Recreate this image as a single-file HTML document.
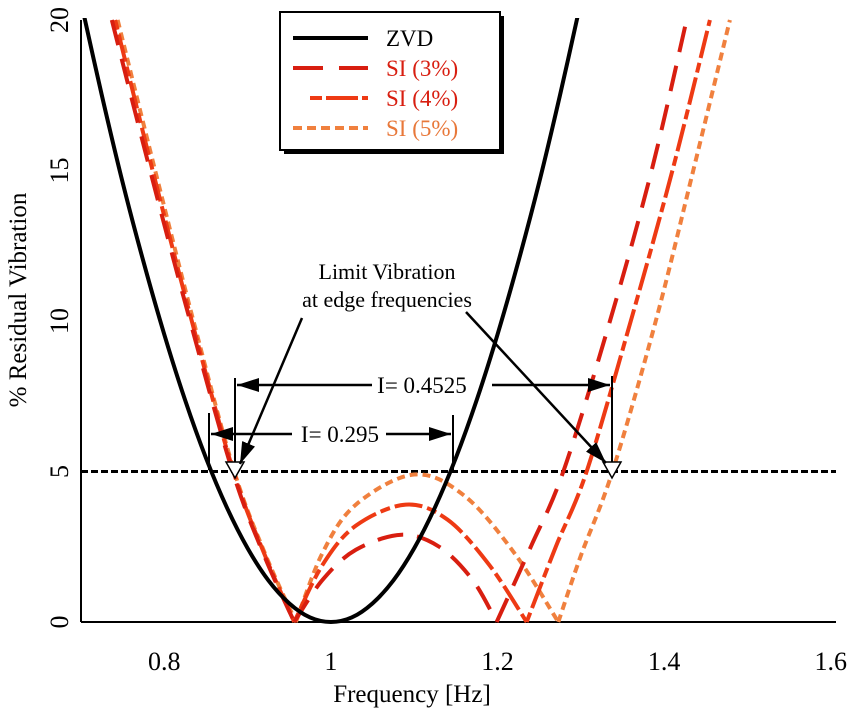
<!DOCTYPE html>
<html><head><meta charset="utf-8"><style>
body{margin:0;background:#fff}
svg text{font-family:"Liberation Serif",serif}
</style></head><body>
<svg width="850" height="711" xmlns="http://www.w3.org/2000/svg">
<g id="plot"></g>
<g id="ann"></g>
<g>
<rect x="284" y="16" width="220" height="138" fill="#000"/>
<rect x="280" y="12" width="220" height="138" fill="#fff" stroke="#000" stroke-width="2"/>
<line x1="293" y1="38" x2="368" y2="38" stroke="#000" stroke-width="4"/>
<text x="386" y="46" font-size="23" fill="#000">ZVD</text>
<line x1="293" y1="68" x2="368" y2="68" stroke="#d81e10" stroke-width="4" stroke-dasharray="30,16"/>
<text x="386" y="76" font-size="23" fill="#d81e10">SI (3%)</text>
<line x1="310" y1="98" x2="368" y2="98" stroke="#ee3a14" stroke-width="4" stroke-dasharray="12,4,32,4"/>
<text x="386" y="106" font-size="23" fill="#d81e10">SI (4%)</text>
<line x1="293" y1="128" x2="368" y2="128" stroke="#f0803e" stroke-width="4" stroke-dasharray="9,5"/>
<text x="386" y="136" font-size="23" fill="#e8783a">SI (5%)</text>
</g>
</svg>
<script>
const xTicks=[0.8,1,1.2,1.4,1.6];
const xTickLabels=["0.8","1","1.2","1.4","1.6"];
const yTicks=[0,5,10,15,20];
const yTickLabels=["0","5","10","15","20"];
const zvd=[[0.7,20.6],[0.725,17.5],[0.75,14.6],[0.775,11.97],[0.8,9.55],[0.825,7.37],[0.85,5.45],[0.875,3.81],[0.9,2.45],[0.925,1.38],[0.95,0.62],[0.975,0.15],[1.0,0],[1.025,0.15],[1.05,0.62],[1.075,1.38],[1.1,2.45],[1.125,3.81],[1.15,5.45],[1.175,7.37],[1.2,9.55],[1.225,11.97],[1.25,14.6],[1.275,17.5],[1.3,20.6]];
const si3=[[[0.737,20],[0.783,15],[0.831,10],[0.882,5],[0.92,2.2],[0.956,0]],[[0.956,0],[0.99,1.4],[1.03,2.4],[1.085,2.9],[1.13,2.5],[1.17,1.4],[1.199,0]],[[1.199,0],[1.24,2.5],[1.279,5],[1.335,10],[1.385,15],[1.427,20]]];
const si4=[[[0.741,20],[0.786,15],[0.833,10],[0.883,5],[0.921,2.2],[0.956,0]],[[0.956,0],[0.99,1.9],[1.03,3.2],[1.09,3.9],[1.14,3.4],[1.19,1.9],[1.235,0]],[[1.235,0],[1.27,2.5],[1.307,5],[1.36,10],[1.41,15],[1.455,20]]];
const si5=[[[0.744,20],[0.789,15],[0.835,10],[0.884,5],[0.922,2.2],[0.958,0]],[[0.958,0],[0.99,2.3],[1.03,3.9],[1.1,4.9],[1.16,4.2],[1.22,2.3],[1.273,0]],[[1.273,0],[1.30,2.2],[1.338,5],[1.39,10],[1.435,15],[1.479,20]]];
const limitLevel=5;

const X=f=>81+(f-0.7)*833, Y=v=>622-v*30.1;
const NS='http://www.w3.org/2000/svg';
const plot=document.getElementById('plot'), ann=document.getElementById('ann');
function mk(tag,attrs,parent){const e=document.createElementNS(NS,tag);for(const k in attrs)e.setAttribute(k,attrs[k]);parent.appendChild(e);return e;}
function path(pts){const p=pts.map(d=>[X(d[0]),Y(d[1])]);let s='M'+p[0][0]+','+p[0][1];
for(let i=0;i<p.length-1;i++){const p0=p[i-1]||p[i],p1=p[i],p2=p[i+1],p3=p[i+2]||p2;
s+=' C'+(p1[0]+(p2[0]-p0[0])/6)+','+(p1[1]+(p2[1]-p0[1])/6)+' '+(p2[0]-(p3[0]-p1[0])/6)+','+(p2[1]-(p3[1]-p1[1])/6)+' '+p2[0]+','+p2[1];}return s;}
const clip=mk('clipPath',{id:'cp'},plot);mk('rect',{x:81,y:18,width:760,height:606},clip);
let e=mk('line',{x1:81,y1:20,x2:81,y2:622,stroke:'#000','stroke-width':2},plot);

e=mk('line',{x1:81,y1:622,x2:836,y2:622,stroke:'#000','stroke-width':2},plot);

xTicks.forEach((t,i)=>{const tx=mk('text',{x:X(t),y:670,'font-size':26,'text-anchor':'middle'},plot);tx.textContent=xTickLabels[i];
});
yTicks.forEach((t,i)=>{const tx=mk('text',{x:0,y:0,'font-size':26,'text-anchor':'middle',transform:'translate(68,'+Y(t)+') rotate(-90)'},plot);tx.textContent=yTickLabels[i];
});
e=mk('text',{x:412,y:702,'font-size':25,'text-anchor':'middle'},plot);e.textContent='Frequency [Hz]';

e=mk('text',{x:0,y:0,'font-size':25,'text-anchor':'middle',transform:'translate(26,300) rotate(-90)'},plot);e.textContent='% Residual Vibration';

const g=mk('g',{'clip-path':'url(#cp)'},plot);
e=mk('line',{x1:81,y1:Y(limitLevel),x2:836,y2:Y(limitLevel),stroke:'#000','stroke-width':3,'stroke-dasharray':'7,3'},g);

function series(segs,name,col,dash){segs.forEach(s=>{const p=mk('path',{d:path(s),fill:'none',stroke:col,'stroke-width':4,'stroke-dasharray':dash},g);
});}
series(si5,'si-5-line','#f0803e','8,5');
series(si4,'si-4-line','#ee3a14','10,5,28,5');
series(si3,'si-3-line','#d81e10','26,14');
e=mk('path',{d:path(zvd),fill:'none',stroke:'#000','stroke-width':4},g);

const defs=mk('defs',{},ann);
const m2=mk('marker',{id:'ar2',markerWidth:22,markerHeight:14,refX:22,refY:7,orient:'auto',markerUnits:'userSpaceOnUse'},defs);
mk('path',{d:'M0,0 L22,7 L0,14 Z',fill:'#000'},m2);
[[209,413],[235,378],[453,415],[612,376]].forEach(v=>mk('line',{x1:v[0],y1:v[1],x2:v[0],y2:470,stroke:'#000','stroke-width':2},ann));
function arr(x1,y1,x2,y2){mk('line',{x1,y1,x2,y2,stroke:'#000','stroke-width':2.5,'marker-end':'url(#ar2)'},ann);}
arr(372,385,237,385);arr(492,385,610,385);arr(292,434,211,434);arr(386,434,451,434);
e=mk('text',{x:422,y:393,'font-size':23,'text-anchor':'middle'},ann);e.textContent='I= 0.4525';

e=mk('text',{x:340,y:442,'font-size':23,'text-anchor':'middle'},ann);e.textContent='I= 0.295';

mk('path',{d:'M226,462 L244,462 L235,478 Z',fill:'#fff',stroke:'#000','stroke-width':1.5},ann);
mk('path',{d:'M603,462 L621,462 L612,478 Z',fill:'#fff',stroke:'#000','stroke-width':1.5},ann);
mk('line',{x1:302,y1:318,x2:240,y2:464,stroke:'#000','stroke-width':2.5,'marker-end':'url(#ar2)'},ann);
mk('line',{x1:466,y1:312,x2:606,y2:463,stroke:'#000','stroke-width':2.5,'marker-end':'url(#ar2)'},ann);
e=mk('text',{x:387,y:279,'font-size':22,'text-anchor':'middle'},ann);e.textContent='Limit Vibration';

e=mk('text',{x:387,y:307,'font-size':22,'text-anchor':'middle'},ann);e.textContent='at edge frequencies';

</script>
</body></html>
